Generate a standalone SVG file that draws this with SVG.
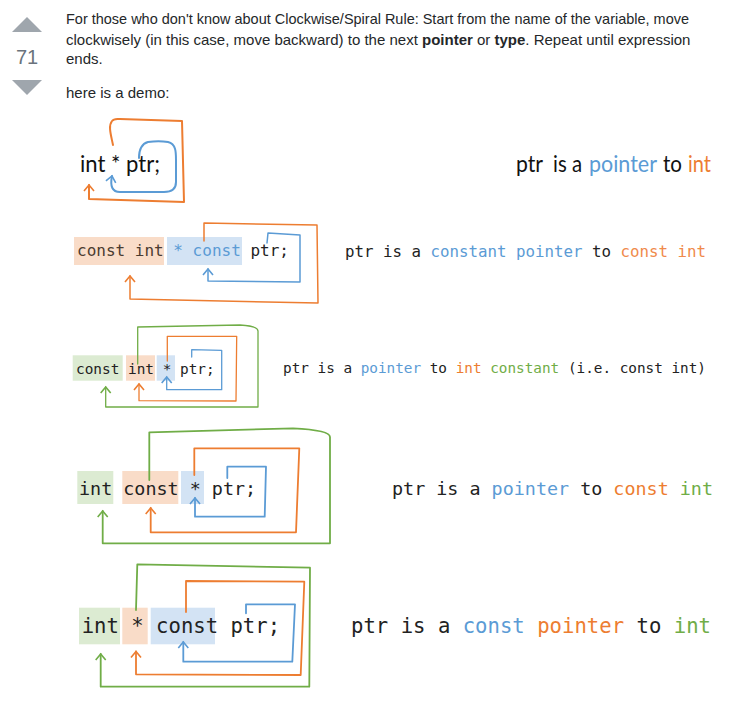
<svg xmlns="http://www.w3.org/2000/svg" width="754" height="711" viewBox="0 0 754 711">
<style>
.hdr{font-family:"Liberation Sans",Arial,sans-serif;font-size:15px;fill:#242729}
.cal{font-family:Lato,"Liberation Sans",sans-serif;font-size:23px;fill:#111}
.mono{font-family:"DejaVu Sans Mono","Liberation Mono",monospace;fill:#222}
.b{fill:#5b9bd5}.o{fill:#ed7d31}.g{fill:#70ad47}
.wire{fill:none;stroke-linejoin:round;stroke-linecap:round}
.so{stroke:#ed7d31}.sb{stroke:#5b9bd5}.sg{stroke:#70ad47}
.bo{fill:#f9dcc8}.bb{fill:#d3e3f4}.bg{fill:#dcebd2}
</style>
<defs>
<marker id="aO" markerUnits="userSpaceOnUse" markerWidth="14" markerHeight="14" viewBox="-8 -7 10 14" refX="0" refY="0" orient="auto" overflow="visible"><path d="M-6,-5 L0,0 L-6,5" fill="none" stroke="#ed7d31" stroke-width="1.6"/></marker>
<marker id="aB" markerUnits="userSpaceOnUse" markerWidth="14" markerHeight="14" viewBox="-8 -7 10 14" refX="0" refY="0" orient="auto" overflow="visible"><path d="M-6,-5 L0,0 L-6,5" fill="none" stroke="#5b9bd5" stroke-width="1.6"/></marker>
<marker id="aG" markerUnits="userSpaceOnUse" markerWidth="14" markerHeight="14" viewBox="-8 -7 10 14" refX="0" refY="0" orient="auto" overflow="visible"><path d="M-6,-5 L0,0 L-6,5" fill="none" stroke="#70ad47" stroke-width="1.6"/></marker>
</defs>
<rect width="754" height="711" fill="#fff"/>
<g id="votes">
<path d="M12,32 L42,32 L27,17 Z" fill="#9fa6ad"/>
<text x="27" y="64" text-anchor="middle" font-family="Liberation Sans,Arial,sans-serif" font-size="20" fill="#6a737c">71</text>
<path d="M12,80 L42,80 L27,95 Z" fill="#9fa6ad"/>
</g>
<g id="intro">
<text class="hdr" x="66" y="24" textLength="623" lengthAdjust="spacingAndGlyphs">For those who don't know about Clockwise/Spiral Rule: Start from the name of the variable, move</text>
<text class="hdr" x="66" y="45">clockwisely (in this case, move backward) to the next <tspan font-weight="bold">pointer</tspan> or <tspan font-weight="bold">type</tspan>. Repeat until expression</text>
<text class="hdr" x="66" y="64">ends.</text>
<text class="hdr" x="66" y="98">here is a demo:</text>
</g>
<g id="demo1">
<text class="cal" x="80" y="172" textLength="80" lengthAdjust="spacingAndGlyphs">int * ptr;</text>
<text class="cal" y="172"><tspan x="516" textLength="27" lengthAdjust="spacingAndGlyphs">ptr</tspan><tspan x="553" textLength="29" lengthAdjust="spacingAndGlyphs">is a</tspan><tspan x="589" class="b" textLength="68" lengthAdjust="spacingAndGlyphs">pointer</tspan><tspan x="663" textLength="19" lengthAdjust="spacingAndGlyphs">to</tspan><tspan x="688" class="o" textLength="23" lengthAdjust="spacingAndGlyphs">int</tspan></text>
</g>
<g id="demo2">
<rect class="bo" x="74" y="237" width="90" height="28"/>
<rect class="bb" x="167" y="237" width="75" height="28"/>
<text class="mono" x="77" y="256" font-size="16"><tspan fill="#4b3b30">const int</tspan> <tspan class="b">* const</tspan> ptr;</text>
<text class="mono" x="345" y="257" font-size="15.8" textLength="361" lengthAdjust="spacingAndGlyphs">ptr is a <tspan class="b">constant pointer</tspan> to <tspan fill="#f08a4b">const int</tspan></text>
</g>
<g id="demo3">
<rect class="bg" x="72.7" y="355.3" width="50" height="25.4"/>
<rect class="bo" x="126" y="355.3" width="29" height="25.4"/>
<rect class="bb" x="156.7" y="355.3" width="18.3" height="25.4"/>
<text class="mono" x="76" y="374" font-size="14.4" fill="#333">const int * ptr;</text>
<text class="mono" x="283" y="373" font-size="14.1" textLength="423" lengthAdjust="spacingAndGlyphs">ptr is a <tspan class="b">pointer</tspan> to <tspan class="o">int</tspan> <tspan class="g">constant</tspan> (i.e. const int)</text>
</g>
<g id="demo4">
<rect class="bg" x="77.3" y="471" width="36" height="33"/>
<rect class="bo" x="122.3" y="471" width="56" height="33"/>
<rect class="bb" x="181" y="471" width="23" height="33"/>
<text class="mono" x="79" y="495" font-size="18.4">int const * ptr;</text>
<text class="mono" x="392" y="495" font-size="18.4" textLength="321" lengthAdjust="spacingAndGlyphs">ptr is a <tspan class="b">pointer</tspan> to <tspan class="o">const</tspan> <tspan class="g">int</tspan></text>
</g>
<g id="demo5">
<rect class="bg" x="79" y="607.7" width="41" height="36.6"/>
<rect class="bo" x="122.3" y="607.7" width="25.4" height="36.6"/>
<rect class="bb" x="150.7" y="607.7" width="64.3" height="36.6"/>
<text class="mono" x="81.7" y="633" font-size="20.6">int * const ptr;</text>
<text class="mono" x="351" y="633" font-size="20.6" textLength="360" lengthAdjust="spacingAndGlyphs">ptr is a <tspan class="b">const</tspan> <tspan class="o">pointer</tspan> to <tspan class="g">int</tspan></text>
</g>
<g id="connectors">
<path class="wire so" stroke-width="2" marker-end="url(#aO)" d="M113,145 C111,135 108,126 112,121 C114,118 118,119 120,119 L182,121 L184,202 L89,199 L89,185"/>
<path class="wire sb" stroke-width="2" marker-end="url(#aB)" d="M139,158 C139,150 141,144 148,142 C155,141 162,141 168,142 C176,144 176,152 176,160 L176,182 C176,190 170,192 164,192 L120,192 C112,192 110,186 112,176"/>
<path class="wire so" stroke-width="1.5" marker-end="url(#aO)" d="M204,241 L204,223 L317,225 L318,303 L130,299 L130,276"/>
<path class="wire sb" stroke-width="1.5" marker-end="url(#aB)" d="M267,243 L268,233 L300,235 L300,282 L208,281 L208,269"/>
<path class="wire sg" stroke-width="1.3" marker-end="url(#aG)" d="M137.7,364 L137.7,327 L240,325 Q258,326 258,331 L258,407 L105.7,407 L105.7,387"/>
<path class="wire so" stroke-width="1.3" marker-end="url(#aO)" d="M167.3,361 L167.3,336.3 L236.7,336.3 L236,401 L139,400.7 L139,384"/>
<path class="wire sb" stroke-width="1.3" marker-end="url(#aB)" d="M191.7,357 L191.7,349.7 L221.7,350.3 L221.7,389.7 L166.7,389.7 L166.7,377"/>
<path class="wire sg" stroke-width="1.8" marker-end="url(#aG)" d="M149.3,480 L149.3,432.3 L293,428.3 Q330,430 330,437 L330,543.3 L102.7,543.3 L102.7,511"/>
<path class="wire so" stroke-width="1.8" marker-end="url(#aO)" d="M194.3,475 L194.3,448.3 L299.3,448.3 L296,532.3 L150.7,532.3 L150.7,508"/>
<path class="wire sb" stroke-width="1.8" marker-end="url(#aB)" d="M227.3,478 L227.3,466.7 L266,466.7 L264.7,516.7 L195,516.7 L195,498"/>
<path class="wire sg" stroke-width="1.8" marker-end="url(#aG)" d="M136,610 L137.3,564.3 L310,567.7 L309.3,686.7 L100.7,686.7 L100.7,654"/>
<path class="wire so" stroke-width="1.8" marker-end="url(#aO)" d="M186,612 L186,581 L304.3,581.7 L300.7,675 L136,674.3 L136,651.5"/>
<path class="wire sb" stroke-width="1.8" marker-end="url(#aB)" d="M246,613.3 L246,604.3 L295,604.3 L292.3,661.7 L183.3,661.7 L183.3,642"/>
</g>
</svg>
